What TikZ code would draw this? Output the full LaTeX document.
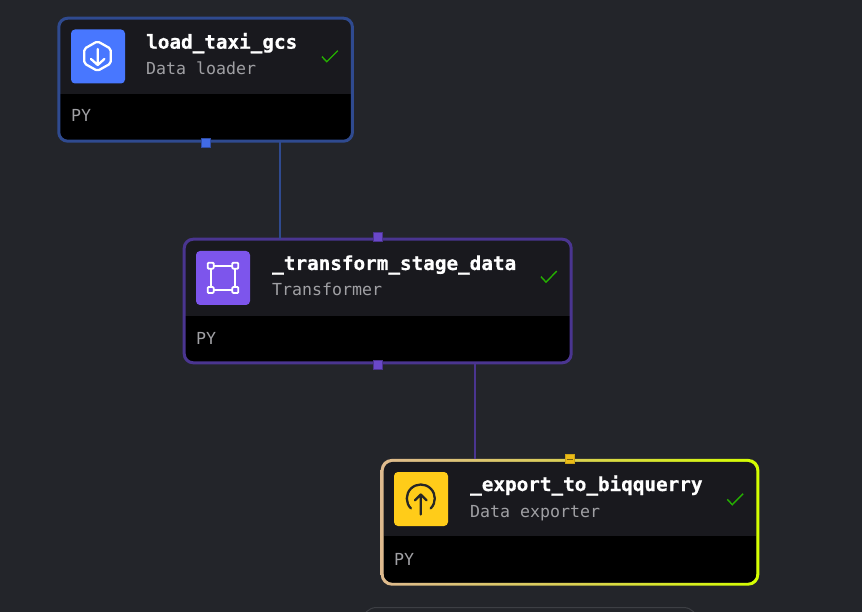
\documentclass[tikz,border=0pt]{standalone}
\usepackage{fontspec}
\setmonofont[BoldFeatures={FakeBold=0.6}]{DejaVu Sans Mono}
\usetikzlibrary{positioning}
\definecolor{canvas}{HTML}{23252A}
\definecolor{head}{HTML}{19191E}
\definecolor{loaderline}{HTML}{2F4A8F}
\definecolor{transformline}{HTML}{4A3590}
\definecolor{loaderblue}{HTML}{4877FF}
\definecolor{transformviolet}{HTML}{7D55EC}
\definecolor{exportyellow}{HTML}{FFCC19}
\definecolor{done}{HTML}{25B000}
\definecolor{muted}{HTML}{A0A0A4}
\tikzset{
  card/.style = {shape=rectangle, rounded corners=9pt, fill=head, outer sep=0pt, inner sep=0pt,
    path picture={\fill[black, sharp corners] ([yshift=47pt]path picture bounding box.south west) rectangle (path picture bounding box.south east);}},
  icon/.style = {shape=rectangle, rounded corners=4pt, minimum size=54pt, inner sep=0pt, outer sep=0pt},
  port/.style = {shape=rectangle, minimum size=9pt, inner sep=0pt, line width=1pt},
  link/.style = {line width=2.8pt},
  title/.style = {anchor=base west, inner sep=0pt, text=white, font=\fontsize{19.3}{22}\selectfont\ttfamily\bfseries},
  kind/.style = {anchor=base west, inner sep=0pt, text=muted, font=\fontsize{16.6}{20}\selectfont\ttfamily},
  lang/.style = {kind},
  tick/.style = {draw=done, line width=1.4pt},
  glyph/.style = {line width=2.3pt, line cap=round, line join=round}
}
\begin{document}
\begin{tikzpicture}
    [x=1pt, y=-1pt]

    \useasboundingbox (0,0) rectangle (862,612);
    \fill[canvas] (0,0) rectangle (862,612);

    % next block, cut off by the page
    \node[shape=rectangle, rounded corners=14pt, draw=white!12!canvas, line width=1pt, minimum width=335pt, minimum height=60pt] (following) at (530,637.5) {};

    % blocks
    \node[card, draw=loaderline, line width=3pt, minimum width=293.7pt, minimum height=123pt] (loader) at (205.6,79.7) {};
    \node[card, draw=transformline, line width=3pt, minimum width=387pt, minimum height=123.6pt] (transform) at (377.7,301) {};
    \node[shape=rectangle, rounded corners=11pt, left color={rgb,255:red,222;green,186;blue,142}, right color={rgb,255:red,212;green,255;blue,0}, middle color={rgb,255:red,218;green,208;blue,84}, minimum width=378.6pt, minimum height=126.7pt, outer sep=0pt, inner sep=0pt] (exportrim) at (570,522.3) {};
    \node[card, minimum width=372.6pt, minimum height=120.7pt] (exporter) at (exportrim.center) {};

    % connectors
    \draw[link, loaderline] ([xshift=74.4pt]loader.south) -- ([xshift=-97.7pt]transform.north);
    \draw[link, transformline] ([xshift=97.3pt]transform.south) -- ([xshift=-95pt]exportrim.north);

    % ports
    \node[port, fill=loaderblue!90!black, draw=loaderblue!65!black] (loaderout) at ([yshift=-1.5pt]loader.south) {};
    \node[port, fill=transformviolet!85!black, draw=transformviolet!60!black] (transformin) at ([xshift=-.2pt, yshift=1.7pt]transform.north) {};
    \node[port, fill=transformviolet!85!black, draw=transformviolet!60!black] (transformout) at ([xshift=-.2pt, yshift=-1.7pt]transform.south) {};
    \node[port, fill=exportyellow!92!black, draw=exportyellow!80!black] (exportin) at ([xshift=-.5pt]exportrim.north) {};
    \draw[exportyellow!45!black, line width=.8pt] ([xshift=-3pt]exportin.center) -- ([xshift=3pt]exportin.center);

    % icons
    \node[icon, fill=loaderblue] (loadericon) at (98,56.5) {};
    \draw[glyph, white, rounded corners=2pt] (97.5,41.3) -- (110.8,48.8) -- (110.8,63.4) -- (97.5,70.9) -- (84.2,63.4) -- (84.2,48.8) -- cycle;
    \draw[glyph, white] (97.7,49) -- (97.7,65) (91,59) -- (97.7,65) -- (104.4,59);

    \node[icon, fill=transformviolet] (transformicon) at (223,278) {};
    \draw[white, line width=2pt] (210.7,265.7) rectangle (235.3,290);
    \foreach \cornerx/\cornery in {210.7/265.7, 235.3/265.7, 210.7/290, 235.3/290}
      \draw[white, line width=1.8pt, fill=transformviolet, rounded corners=1pt] (\cornerx-3,\cornery-3) rectangle (\cornerx+3,\cornery+3);

    \node[icon, fill=exportyellow] (exporticon) at (421,499) {};
    \draw[glyph, black!85] (410.9,508.4) arc[start angle=135, end angle=405, radius=14];
    \draw[glyph, black!85] (420.8,514.5) -- (420.8,494.5) (415,500.3) -- (420.8,494.5) -- (426.6,500.3);

    % texts
    \node[title] (loadername) at (146,48.7) {load\_taxi\_gcs};
    \node[kind] (loaderkind) at (146,74.5) {Data loader};
    \node[lang] (loaderlang) at (71,122) {PY};
    \node[title] (transformname) at (272,270) {\_transform\_stage\_data};
    \node[kind] (transformkind) at (272,295.5) {Transformer};
    \node[lang] (transformlang) at (196,344) {PY};
    \node[title] (exportname) at (470,491) {\_export\_to\_biqquerry};
    \node[kind] (exportkind) at (470,517) {Data exporter};
    \node[lang] (exportlang) at (394,565) {PY};

    % status
    \draw[tick] (322,56.7) -- ++(4.8,5) -- ++(11,-11);
    \draw[tick] (541,276.7) -- ++(5,5.4) -- ++(10.8,-11);
    \draw[tick] (727.3,499.3) -- ++(5,5.4) -- ++(10.8,-11);
\end{tikzpicture}
\end{document}
